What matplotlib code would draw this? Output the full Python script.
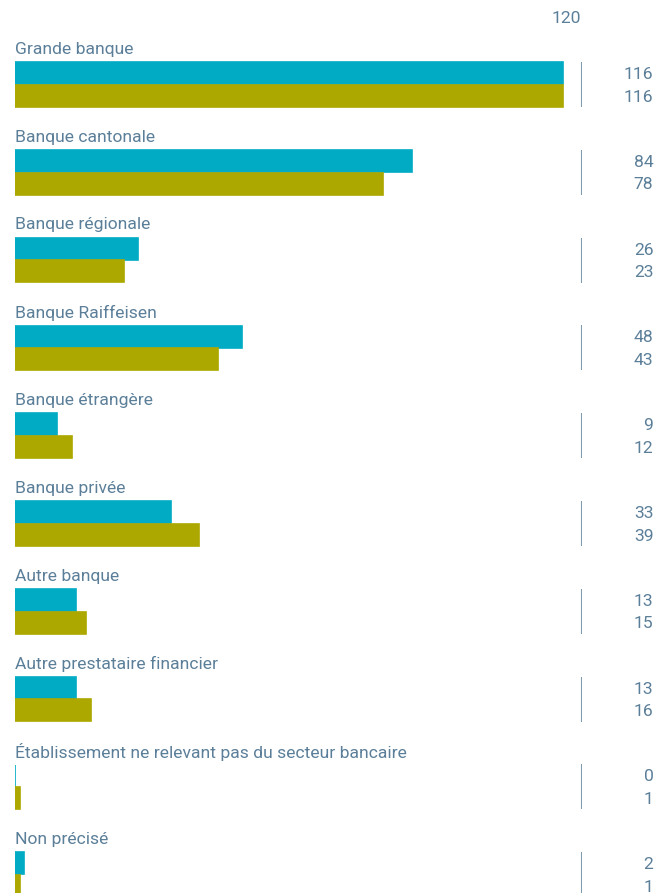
import matplotlib
matplotlib.use("Agg")
from matplotlib import pyplot as plt

categories = ["Grande banque", "Banque cantonale", "Banque régionale",
              "Banque Raiffeisen", "Banque étrangère", "Banque privée",
              "Autre banque", "Autre prestataire financier",
              "Établissement ne relevant pas du secteur bancaire",
              "Non précisé"]
series_a = [116, 84, 26, 48, 9, 33, 13, 13, 0, 2]
series_b = [116, 78, 23, 43, 12, 39, 15, 16, 1, 1]
axis_max = 120

teal = "#00abc3"
olive = "#aca800"
text_col = "#5b7f99"
line_col = "#7f9cb1"

plt.rcParams['font.family'] = ['Roboto', 'DejaVu Sans']
fs = 12.6

W, H = 657, 893
fig = plt.figure(figsize=(W / 100, H / 100), dpi=100)
left_px, right_px = 15, 581.5
ax = fig.add_axes([left_px / W, 0, (right_px - left_px) / W, 1])
ax.axis('off')

# one group = 87.8 px, first bar pair centred at 84.5 px from top
unit = 87.8
ax.set_ylim((H - 84.5) / unit, -84.5 / unit)
ax.set_xlim(0, axis_max)

h = 0.25
off = 0.128
for i, (cat, a, b) in enumerate(zip(categories, series_a, series_b)):
    ax.barh(i - off, a, height=h, color=teal, edgecolor=teal, linewidth=1.2)
    ax.barh(i + off, b, height=h, color=olive, edgecolor=olive, linewidth=1.2)
    ax.text(0, i - 0.4, cat, ha='left', va='center', fontsize=fs,
            color=text_col)
    ax.vlines(axis_max, i - 0.256, i + 0.256, color=line_col, linewidth=1.5)
    ax.text(1.127, i - off + 0.015, str(a), transform=ax.get_yaxis_transform(),
            ha='right', va='center', fontsize=fs, color=text_col)
    ax.text(1.127, i + off + 0.015, str(b), transform=ax.get_yaxis_transform(),
            ha='right', va='center', fontsize=fs, color=text_col)

ax.text(axis_max, -0.75, str(axis_max), ha='right', va='center',
        fontsize=fs, color=text_col)

fig.savefig("out.png", dpi=100)
